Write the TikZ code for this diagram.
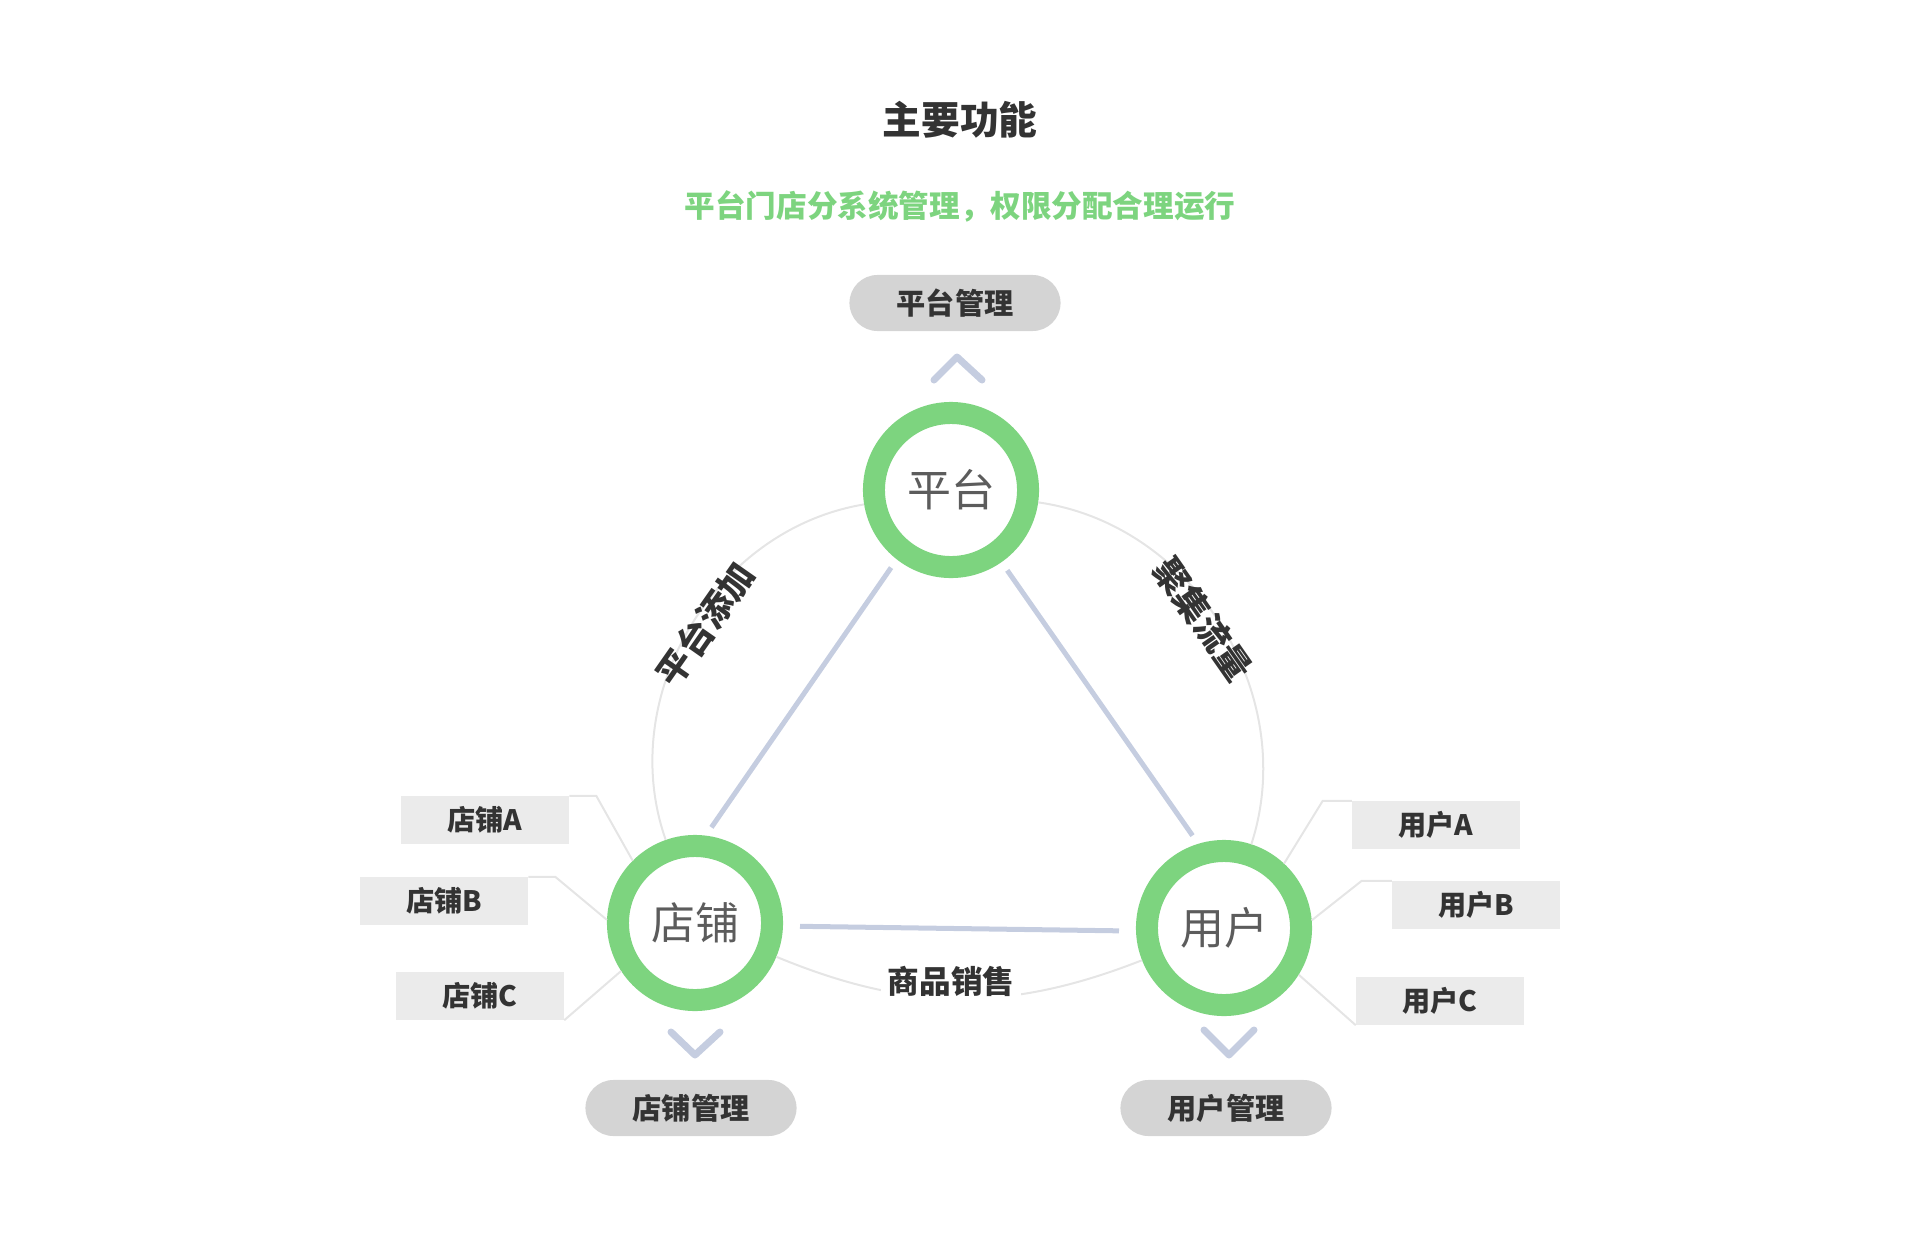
\documentclass[tikz,border=0pt]{standalone}
\usepackage{fontspec}
\setmainfont{Noto Sans CJK SC}
\usepackage{tikz}
\usetikzlibrary{positioning}
\definecolor{ringgreen}{HTML}{7DD47F}
\definecolor{linkblue}{HTML}{C5CDE0}
\definecolor{pillgray}{HTML}{D4D4D4}
\definecolor{boxgray}{HTML}{EBEBEB}
\definecolor{textdark}{HTML}{333333}
\tikzset{
  hub/.style={circle,draw=ringgreen,line width=0.22cm,minimum size=1.54cm,inner sep=0pt,fill=white,text=textdark!80,font=\fontsize{12.5}{14}\selectfont},
  pill/.style={rounded corners=0.28cm,fill=pillgray,minimum width=2.11cm,minimum height=0.56cm,inner sep=0pt,text=textdark,font=\bfseries\fontsize{8.3}{10}\selectfont},
  tagbox/.style={fill=boxgray,minimum width=1.67cm,minimum height=0.47cm,inner sep=0pt,text=textdark,font=\bfseries\fontsize{8}{10}\selectfont},
  link/.style={draw=linkblue,line width=0.05cm,shorten >=0.1cm,shorten <=0.1cm},
  chev/.style={draw=linkblue,line width=0.07cm,line cap=round,line join=round},
  guide/.style={draw=black!10,line width=0.02cm},
  edgelabel/.style={text=textdark,inner sep=1pt,font=\bfseries\fontsize{9}{10}\selectfont}
}
\begin{document}
\begin{tikzpicture}[x=0.01cm,y=-0.01cm]
		\useasboundingbox (0,0) rectangle (1920,1242);
		% titles
		\node[text=textdark,font=\bfseries\fontsize{11}{13}\selectfont] (title) at (960,120) {主要功能};
		\node[text=ringgreen,font=\bfseries\fontsize{8.7}{10}\selectfont] (subtitle) at (960,206) {平台门店分系统管理，权限分配合理运行};
		% hubs
		\node[hub] (Plat) at (951,490) {平台};
		\node[hub] (Store) at (695,923) {店铺};
		\node[hub] (User) at (1224,928) {用户};
		% outer guide arcs
		\draw[guide] (Plat) to[bend right=50] (Store);
		\draw[guide] (Store) to[bend right=22] (User);
		\draw[guide] (User) to[bend right=50] (Plat);
		% triangle
		\draw[link] (Plat.232) -- (Store.83);
		\draw[link] (Plat.305) -- (User.107);
		\draw[link,shorten >=0.17cm,shorten <=0.17cm] (Store.-2) -- (User.182);
		\node[edgelabel,rotate=55,font=\bfseries\fontsize{10}{11}\selectfont] (addLbl) at (705,624) {平台添加};
		\node[edgelabel,rotate=-55,font=\bfseries\fontsize{10}{11}\selectfont] (flowLbl) at (1203,619) {聚集流量};
		\node[edgelabel,fill=white,inner sep=2pt] (saleLbl) at (951,981) {商品销售};
		% management pills and chevrons
		\node[pill] (PlatMgr) at (955,303) {平台管理};
		\node[pill] (StoreMgr) at (691,1108) {店铺管理};
		\node[pill] (UserMgr) at (1226,1108) {用户管理};
		\draw[chev] (934,380) -- (957,357) -- (982,380);
		\draw[chev] (671,1032) -- (695,1055) -- (720,1032);
		\draw[chev] (1204,1030) -- (1229,1055) -- (1254,1030);
		% store tags
		\node[tagbox] (StoreA) at (485,820) {店铺A};
		\node[tagbox] (StoreB) at (444,901) {店铺B};
		\node[tagbox] (StoreC) at (480,996) {店铺C};
		\draw[guide] (StoreA.north east) -- ++(27,0) -- (Store.135);
		\draw[guide] (StoreB.north east) -- ++(27,0) -- (Store.178);
		\draw[guide] (StoreC.south east) -- (Store.213);
		% user tags
		\node[tagbox] (UserA) at (1436,825) {用户A};
		\node[tagbox] (UserB) at (1476,905) {用户B};
		\node[tagbox] (UserC) at (1440,1001) {用户C};
		\draw[guide] (UserA.north west) -- ++(-29,0) -- (User.47);
		\draw[guide] (UserB.north west) -- ++(-30,0) -- (User.5);
		\draw[guide] (UserC.south west) -- (User.-32);
	\end{tikzpicture}
\end{document}
